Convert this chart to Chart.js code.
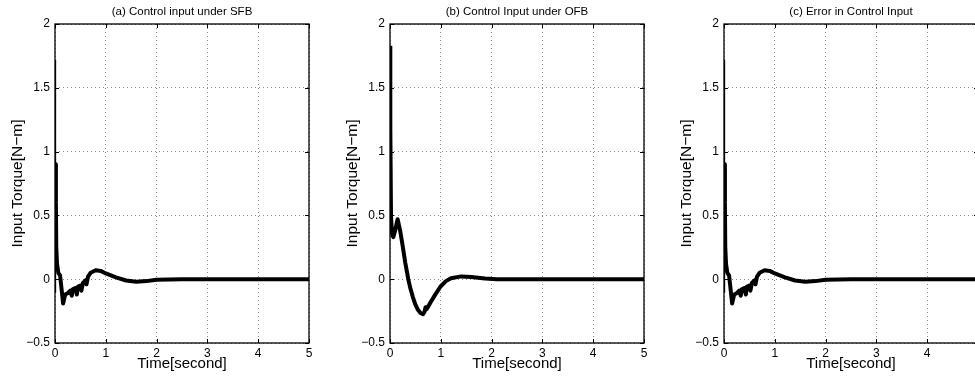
<!DOCTYPE html>
<html>
<head>
<meta charset="utf-8">
<script src="https://cdn.jsdelivr.net/npm/chart.js@4/dist/chart.umd.min.js"></script>
<style>
  html, body { margin: 0; padding: 0; background: #fff; width: 975px; height: 381px; overflow: hidden; }
  .wrap { position: relative; width: 975px; height: 381px; overflow: hidden; }
  canvas { position: absolute; top: 0; }
</style>
</head>
<body>
<div class="wrap">
  <canvas id="cA" width="325" height="381" style="left:0px"></canvas>
  <canvas id="cB" width="325" height="381" style="left:335px"></canvas>
  <canvas id="cC" width="325" height="381" style="left:669px"></canvas>
</div>
<script>
// ---------- data ----------
const panelTitles = ['(a) Control input under SFB', '(b) Control Input under OFB', '(c) Error in Control Input'];
const xAxisTitle = 'Time[second]';
const yAxisTitle = 'Input Torque[N\u2212m]';
const xTickValues = [0, 1, 2, 3, 4, 5];
const xTickLabels = ['0', '1', '2', '3', '4', '5'];
const yTickValues = [-0.5, 0, 0.5, 1, 1.5, 2];
const yTickLabels = ['\u22120.5', '0', '0.5', '1', '1.5', '2'];

// (a) SFB: thin initial spike, then thick response
const sfbSpikeTime   = [0, 0.004, 0.012];
const sfbSpikeTorque = [-0.1, 1.72, 0.9];
const sfbTime   = [0.012, 0.018, 0.025, 0.04, 0.065, 0.1, 0.13, 0.16, 0.2, 0.25, 0.3, 0.33, 0.35, 0.4, 0.43, 0.45, 0.5, 0.52, 0.55, 0.6, 0.62, 0.65, 0.7, 0.8, 0.9, 1.0, 1.2, 1.4, 1.6, 1.8, 2.0, 2.5, 3, 4, 5];
const sfbTorque = [0.9, 0.6, 0.25, 0.12, 0.05, 0.03, -0.08, -0.19, -0.12, -0.11, -0.09, -0.13, -0.08, -0.07, -0.12, -0.06, -0.05, -0.09, -0.03, -0.01, -0.04, 0.02, 0.05, 0.07, 0.065, 0.045, 0.015, -0.01, -0.02, -0.015, -0.005, 0, 0, 0, 0];

// (b) OFB
const ofbSpikeTime   = [0, 0.006];
const ofbSpikeTorque = [1.83, 1.2];
const ofbTime   = [0.006, 0.02, 0.04, 0.065, 0.1, 0.15, 0.2, 0.25, 0.3, 0.36, 0.4, 0.45, 0.5, 0.55, 0.6, 0.65, 0.68, 0.7, 0.72, 0.75, 0.8, 0.9, 1.0, 1.1, 1.2, 1.4, 1.6, 1.87, 2.1, 3, 4, 5];
const ofbTorque = [1.2, 0.49, 0.36, 0.33, 0.38, 0.47, 0.38, 0.26, 0.13, 0.0, -0.07, -0.14, -0.2, -0.24, -0.265, -0.275, -0.255, -0.22, -0.235, -0.215, -0.18, -0.115, -0.055, -0.015, 0.008, 0.022, 0.018, 0.005, 0, 0, 0, 0];

// (c) Error in control input
const errSpikeTime   = [0, 0.004, 0.012];
const errSpikeTorque = [-0.1, 1.72, 0.9];
const errTime   = [0.012, 0.018, 0.025, 0.04, 0.065, 0.1, 0.13, 0.16, 0.2, 0.25, 0.3, 0.33, 0.35, 0.4, 0.43, 0.45, 0.5, 0.52, 0.55, 0.6, 0.62, 0.65, 0.7, 0.8, 0.9, 1.0, 1.2, 1.4, 1.6, 1.8, 2.0, 2.5, 3, 4, 5];
const errTorque = [0.9, 0.6, 0.25, 0.12, 0.05, 0.03, -0.08, -0.19, -0.12, -0.11, -0.09, -0.13, -0.08, -0.07, -0.12, -0.06, -0.05, -0.09, -0.03, -0.01, -0.04, 0.02, 0.05, 0.07, 0.065, 0.045, 0.015, -0.01, -0.02, -0.015, -0.005, 0, 0, 0, 0];

// ---------- rendering ----------
const FONT = '"Liberation Sans", Arial, Helvetica, sans-serif';
function pts(xs, ys) { return xs.map((x, i) => ({ x: x, y: ys[i] })); }

const boxPlugin = {
  id: 'boxTicks',
  afterDatasetsDraw(chart) {
    const { ctx, chartArea: a, scales } = chart;
    ctx.save();
    ctx.strokeStyle = '#000';
    ctx.lineWidth = 1;
    ctx.beginPath();
    const tl = 4;
    xTickValues.forEach(v => {
      const px = Math.round(scales.x.getPixelForValue(v)) + 0.5;
      ctx.moveTo(px, a.bottom); ctx.lineTo(px, a.bottom - tl);
      ctx.moveTo(px, a.top); ctx.lineTo(px, a.top + tl);
    });
    yTickValues.forEach(v => {
      const py = Math.round(scales.y.getPixelForValue(v)) + 0.5;
      ctx.moveTo(a.left, py); ctx.lineTo(a.left + tl, py);
      ctx.moveTo(a.right, py); ctx.lineTo(a.right - tl, py);
    });
    ctx.stroke();
    ctx.lineWidth = 1.3;
    ctx.strokeRect(a.left, a.top, a.right - a.left, a.bottom - a.top);
    ctx.restore();
  }
};

function makeChart(id, title, spikeX, spikeY, spikeW, mainX, mainY) {
  new Chart(document.getElementById(id), {
    type: 'scatter',
    data: {
      datasets: [
        { data: pts(spikeX, spikeY), showLine: true, borderColor: '#000', borderWidth: spikeW, pointRadius: 0, tension: 0 },
        { data: pts(mainX, mainY), showLine: true, borderColor: '#000', borderWidth: 4, pointRadius: 0, tension: 0, borderJoinStyle: 'round', borderCapStyle: 'round' }
      ]
    },
    options: {
      responsive: false,
      animation: false,
      devicePixelRatio: 1,
      layout: { padding: { left: 0, right: 16, top: 0, bottom: 0 } },
      plugins: {
        legend: { display: false },
        tooltip: { enabled: false },
        title: {
          display: true, text: title, color: '#000', fullSize: false,
          font: { family: FONT, size: 11.5, weight: 'normal' },
          padding: { top: 5, bottom: 5.2 }
        }
      },
      scales: {
        x: {
          type: 'linear', min: 0, max: 5,
          afterFit: s => { s.height = 38; },
          ticks: {
            stepSize: 1, color: '#000', padding: 3,
            font: { family: FONT, size: 12 },
            callback: (v) => { const i = xTickValues.indexOf(v); return i >= 0 ? xTickLabels[i] : ''; }
          },
          grid: { color: '#8a8a8a', lineWidth: 1, drawTicks: false },
          border: { display: false, dash: [1, 3] },
          title: { display: true, text: xAxisTitle, color: '#000', font: { family: FONT, size: 15 }, padding: { top: 0, bottom: 8 } }
        },
        y: {
          type: 'linear', min: -0.5, max: 2,
          afterFit: s => { s.width = 55; },
          ticks: {
            stepSize: 0.5, color: '#000', padding: 5,
            font: { family: FONT, size: 12 },
            callback: (v) => { const i = yTickValues.indexOf(v); return i >= 0 ? yTickLabels[i] : ''; }
          },
          grid: { color: '#8a8a8a', lineWidth: 1, drawTicks: false },
          border: { display: false, dash: [1, 3] },
          title: { display: true, text: yAxisTitle, color: '#000', font: { family: FONT, size: 15.5 }, padding: { top: 8, bottom: 0 } }
        }
      }
    },
    plugins: [boxPlugin]
  });
}

makeChart('cA', panelTitles[0], sfbSpikeTime, sfbSpikeTorque, 1.5, sfbTime, sfbTorque);
makeChart('cB', panelTitles[1], ofbSpikeTime, ofbSpikeTorque, 4, ofbTime, ofbTorque);
makeChart('cC', panelTitles[2], errSpikeTime, errSpikeTorque, 1.5, errTime, errTorque);
</script>
</body>
</html>
